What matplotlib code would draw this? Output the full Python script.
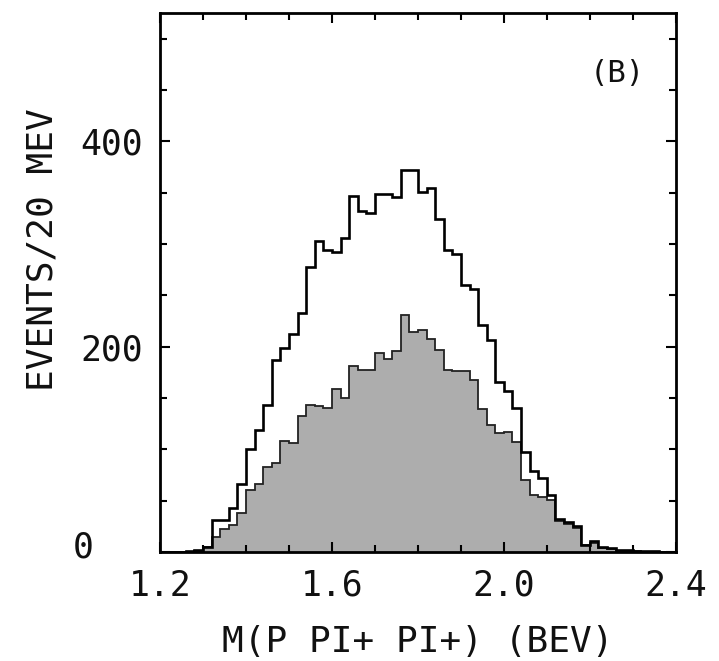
import numpy as np
import matplotlib
matplotlib.use("Agg")
from matplotlib import pyplot as plt
from matplotlib.transforms import ScaledTranslation

# 20 MeV bins from 1.2 to 2.4 BeV
edges = np.round(np.arange(1.2, 2.4001, 0.02), 3)

# all events (open histogram)
total = [0, 0, 0, 1, 2, 5, 31, 31, 43, 66,
         100, 119, 143, 187, 199, 212, 233, 278, 303, 294,
         292, 306, 347, 332, 330, 349, 349, 346, 372, 372,
         351, 355, 324, 294, 290, 260, 256, 221, 207, 166,
         157, 140, 97, 79, 72, 55, 32, 29, 25, 7,
         11, 5, 4, 2, 2, 1, 1, 1, 0, 0]

# selected events (shaded histogram)
selected = [0, 0, 0, 0, 1, 5, 15, 22, 26, 38,
            60, 66, 83, 87, 108, 106, 132, 143, 142, 140,
            159, 150, 181, 177, 177, 194, 188, 196, 231, 214,
            216, 208, 197, 177, 176, 176, 168, 139, 124, 116,
            117, 107, 70, 55, 54, 51, 30, 27, 23, 7,
            9, 4, 3, 1, 1, 1, 0, 0, 0, 0]

xticks = [1.2, 1.6, 2.0, 2.4]
xticklabels = ["1.2", "1.6", "2.0", "2.4"]
yticks = [0, 200, 400]
yticklabels = ["0", "200", "400"]

plt.rcParams["font.family"] = ["DejaVu Sans Mono", "DejaVu Sans"]

fig = plt.figure(figsize=(7.19, 6.61), dpi=100)
ax = fig.add_axes([0.2225, 0.165, 0.7175, 0.815])

ax.stairs(selected, edges, fill=True, facecolor="#adadad", edgecolor="none")
ax.stairs(selected, edges, color="#222222", linewidth=1.3)
ax.stairs(total, edges, color="black", linewidth=1.9)

ax.set_xlim(1.2, 2.4)
ax.set_ylim(0, 525)

ax.set_xticks(xticks, xticklabels)
ax.set_xticks(np.arange(1.2, 2.41, 0.1), minor=True)
ax.set_yticks(yticks, yticklabels)
ax.set_yticks(np.arange(0, 525, 50), minor=True)

ax.tick_params(which="both", direction="in", top=True, right=True,
               width=1.5, labelsize=25, labelcolor="#111111")
ax.tick_params(which="major", length=7, pad=12)
ax.tick_params(which="minor", length=5)

for s in ax.spines.values():
    s.set_linewidth(2)

# the "0" label sits further out than the others
lbl0 = ax.get_yticklabels()[0]
lbl0.set_transform(lbl0.get_transform() + ScaledTranslation(-0.5, 0.08, fig.dpi_scale_trans))

ax.set_xlabel("M(P PI+ PI+) (BEV)", fontsize=26, color="#111111")
ax.xaxis.set_label_coords(0.5, -0.135)
ax.set_ylabel("EVENTS/20 MEV", fontsize=26, color="#111111")
ax.yaxis.set_label_coords(-0.195, 0.562)

ax.text(0.886, 0.889, "(B)", transform=ax.transAxes, fontsize=22,
        ha="center", va="center", color="#111111")

fig.savefig("out.png", dpi=100)
